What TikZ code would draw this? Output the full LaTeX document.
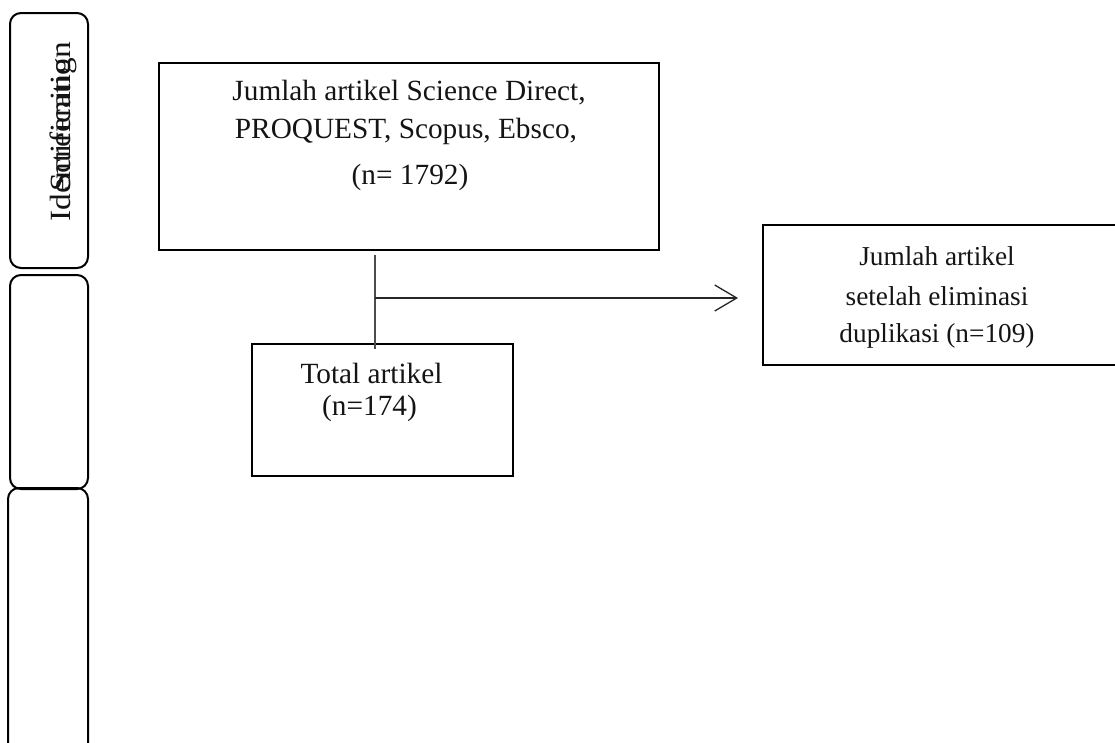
\documentclass[tikz,border=0pt]{standalone}
\usepackage{fontspec}
\setmainfont{Liberation Serif}
\usetikzlibrary{arrows.meta}
\begin{document}
\begin{tikzpicture}[x=1pt,y=-1pt,
  box/.style={draw=black, line width=2pt, inner sep=0pt},
  side/.style={draw=black, line width=2pt, rounded corners=11pt, inner sep=0pt},
  txt/.style={font=\fontsize{29.3}{34}\selectfont, anchor=base, inner sep=0pt, text=black!92},
  txts/.style={txt, font=\fontsize{27.3}{34}\selectfont},
  conn/.style={draw=black!85, line width=1.3pt},
  vconn/.style={draw=black!70, line width=1.7pt},
  ]
\useasboundingbox (0,0) rectangle (1115,742);
% side column
\node[side, minimum width=78pt, minimum height=255pt] (s1) at (49,140.5) {};
\node[side, minimum width=78pt, minimum height=214pt] (s2) at (49,382) {};
\node[side, minimum width=80pt, minimum height=282pt] (s3) at (48,629) {};
\node[txt, rotate=90, anchor=base west] (lid) at (70,222) {\scalebox{1.14}[1]{Identification}};
\node[txt, rotate=90, anchor=base west] (lsc) at (70,192) {\scalebox{1.14}[1]{Screening}};
% boxes
\node[box, minimum width=500pt, minimum height=187pt] (top) at (409,156.5) {};
\node[box, minimum width=261pt, minimum height=132pt] (tot) at (382.5,410) {};
\node[box, minimum width=354pt, minimum height=140pt] (dup) at (940,295) {};
% texts
\node[txt] (t1a) at (409,100) {Jumlah artikel Science Direct,};
\node[txt] (t1b) at (406,138) {PROQUEST, Scopus, Ebsco,};
\node[txt] (t1c) at (410,184) {(n= 1792)};
\node[txt] (t2a) at (371.5,383) {Total artikel};
\node[txt] (t2b) at (369.5,415) {(n=174)};
\node[txts] (t3a) at (937,265) {Jumlah artikel};
\node[txts] (t3b) at (937,305) {setelah eliminasi};
\node[txts] (t3c) at (937,342) {duplikasi (n=109)};
% connectors
\coordinate (v1) at (375,255);
\coordinate (v2) at (375,349);
\coordinate (j) at (375,298);
\coordinate (tip) at (738,298);
\draw[vconn] (v1) -- (v2);
\draw[conn, -{Straight Barb[length=22pt,width=26pt,line width=1.3pt]}] (j) -- (tip);
\end{tikzpicture}
\end{document}
